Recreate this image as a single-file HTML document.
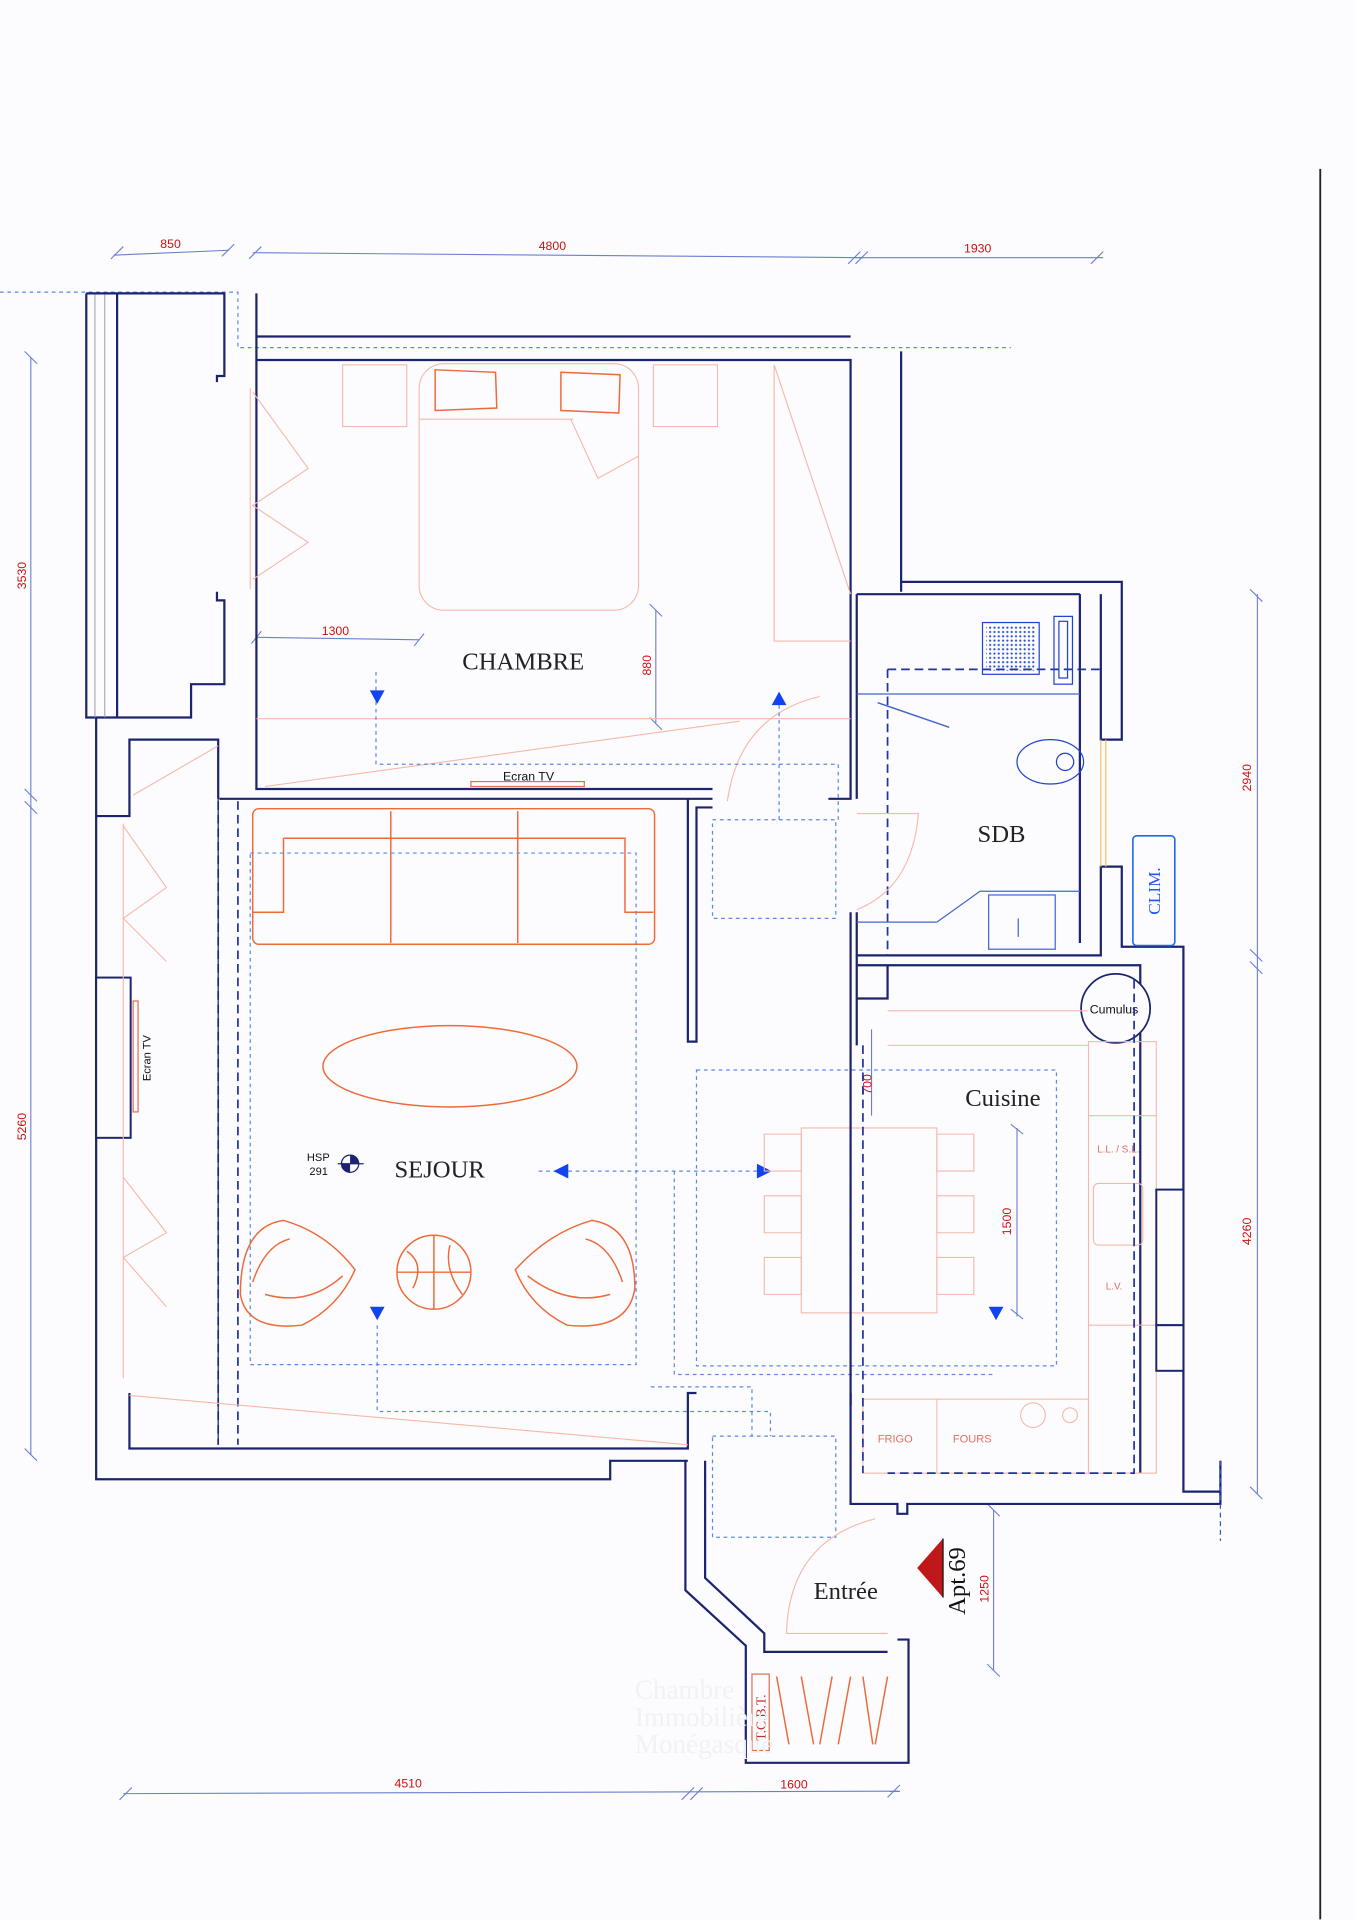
<!DOCTYPE html>
<html><head><meta charset="utf-8"><style>
html,body{margin:0;padding:0;background:#fcfcfe;}
svg{display:block}
text{font-family:"Liberation Sans",sans-serif}
.w{stroke:#1c2470;stroke-width:1.8;fill:none}
.wf{stroke:#1c2470;stroke-width:1.6;fill:#fcfcfe}
.d{stroke:#223399;stroke-width:1.4;fill:none;stroke-dasharray:7 4}
.b{stroke:#5a8ae8;stroke-width:1;fill:none;stroke-dasharray:3 3}
.o{stroke:#ee6a3a;stroke-width:1.2;fill:none}
.p{stroke:#f6b8a8;stroke-width:0.9;fill:none}
.dim{stroke:#6b7fd0;stroke-width:0.9;fill:none}
.dt{fill:#cc1111;font-size:10px}
.rm{font-family:"Liberation Serif",serif !important;font-size:19px;fill:#222}
.sf{font-family:"Liberation Serif",serif !important}
.ar{fill:#1144ee}
</style></head><body>
<svg width="1356" height="1920" viewBox="0 0 1100 1557.5" preserveAspectRatio="none">
<rect width="1100" height="1557.5" fill="#fcfcfe"/>
<line x1="1071" y1="137" x2="1071" y2="1557" stroke="#222" stroke-width="1.5"/>
<g class="dim"><line x1="92" y1="207" x2="186" y2="203"/><line x1="205" y1="205" x2="700" y2="209"/><line x1="693" y1="209" x2="895" y2="209"/>
<line x1="90" y1="210" x2="100" y2="200"/><line x1="180" y1="208" x2="190" y2="198"/><line x1="202" y1="210" x2="212" y2="200"/><line x1="688" y1="214" x2="698" y2="204"/><line x1="694" y1="214" x2="704" y2="204"/><line x1="885" y1="214" x2="895" y2="204"/>
<line x1="25" y1="290" x2="25" y2="1180"/><line x1="20" y1="285" x2="30" y2="295"/><line x1="20" y1="640" x2="30" y2="650"/><line x1="20" y1="650" x2="30" y2="660"/><line x1="20" y1="1175" x2="30" y2="1185"/>
<line x1="1020" y1="482" x2="1020" y2="1212"/><line x1="1014" y1="478" x2="1024" y2="488"/><line x1="1014" y1="770" x2="1024" y2="780"/><line x1="1014" y1="780" x2="1024" y2="790"/><line x1="1014" y1="1206" x2="1024" y2="1216"/>
<line x1="100" y1="1455" x2="730" y2="1453"/><line x1="97" y1="1460" x2="107" y2="1450"/><line x1="553" y1="1460" x2="563" y2="1450"/><line x1="560" y1="1460" x2="570" y2="1450"/><line x1="720" y1="1458" x2="730" y2="1448"/>
<line x1="806" y1="1225" x2="806" y2="1355"/><line x1="801" y1="1220" x2="811" y2="1230"/><line x1="801" y1="1350" x2="811" y2="1360"/>
<line x1="208" y1="517" x2="340" y2="519"/><line x1="204" y1="522" x2="212" y2="512"/><line x1="336" y1="524" x2="344" y2="514"/>
<line x1="532" y1="495" x2="532" y2="587"/><line x1="527" y1="490" x2="537" y2="500"/><line x1="527" y1="582" x2="537" y2="592"/>
<line x1="707" y1="835" x2="707" y2="905"/><line x1="825" y1="915" x2="825" y2="1068"/><line x1="820" y1="1062" x2="830" y2="1070"/><line x1="820" y1="912" x2="830" y2="920"/>
</g>
<g class="dt"><text x="130" y="201">850</text><text x="437" y="203">4800</text><text x="782" y="205">1930</text>
<text x="261" y="515">1300</text><text x="320" y="1450">4510</text><text x="633" y="1451">1600</text>
<text transform="translate(21,478) rotate(-90)">3530</text><text transform="translate(21,925) rotate(-90)">5260</text>
<text transform="translate(1015,642) rotate(-90)">2940</text><text transform="translate(1015,1010) rotate(-90)">4260</text>
<text transform="translate(528,548) rotate(-90)">880</text><text transform="translate(707,888) rotate(-90)">700</text>
<text transform="translate(820,1002) rotate(-90)">1500</text><text transform="translate(802,1300) rotate(-90)">1250</text></g>
<path class="b" d="M0 237 H193 V282 H820" stroke-width="1.2"/>
<path class="w" d="M70 238 V582 H155 V555 H182 V487 H176 V480"/><line class="w" x1="95" y1="238" x2="95" y2="582"/><line x1="77" y1="238" x2="77" y2="582" stroke="#99a" stroke-width="0.8"/><line x1="85" y1="238" x2="85" y2="582" stroke="#99a" stroke-width="0.8"/>
<path class="w" d="M70 238 H182 V305 H176 V310"/>
<path class="w" d="M208 238 V640 H578"/>
<path class="w" d="M208 273 H690"/><path class="w" d="M208 292 H690 V648 H672"/><line class="w" x1="731" y1="285" x2="731" y2="480"/>
<rect class="p" x="278" y="296" width="52" height="50"/><rect class="p" x="530" y="296" width="52" height="50"/>
<rect class="p" x="340" y="295" width="178" height="200" rx="20"/>
<path d="M353 300 L402 302 L403 331 L353 333Z" class="o" stroke-width="1"/><path d="M455 302 L503 304 L502 335 L455 333Z" class="o" stroke-width="1"/>
<line class="p" x1="340" y1="340" x2="465" y2="340"/><path class="p" d="M463 340 L485 388 L518 370"/>
<path class="p" d="M205 318 L250 380 L205 410 L250 440 L205 470"/><line class="p" x1="203" y1="315" x2="203" y2="478"/>
<path class="p" d="M628 296 L690 482 M628 296 V520 H690"/>
<line class="p" x1="208" y1="583" x2="690" y2="583"/><line class="p" x1="215" y1="638" x2="600" y2="585"/>
<path class="p" d="M590 650 Q600 580 665 565"/>
<rect x="382" y="634" width="92" height="4" fill="none" stroke="#e07050"/>
<text x="408" y="633" font-size="10" fill="#111">Ecran TV</text>
<text x="375" y="543" class="rm" style="font-size:20px">CHAMBRE</text>
<path class="b" d="M305 545 V620 H680 V665"/><polygon class="ar" points="300,560 312,560 306,571"/>
<path class="b" d="M632 572 V665"/><polygon class="ar" points="626,572 638,572 632,561"/>
<rect class="b" x="578" y="665" width="100" height="80"/><rect class="b" x="578" y="1165" width="100" height="82"/>
<path class="w" d="M695 482 V648 M695 482 H876 M731 472 H910 V600 H893 V482"/>
<path class="w" d="M695 740 V775 H893 V703 H910 V768 H960 V1210 H990 M695 783 H925 V1195 M720 783 V810 H695"/>
<line class="w" x1="876" y1="482" x2="876" y2="765" stroke-width="1" stroke="#4466cc"/>
<path class="d" d="M720 543 H893 M720 543 V775"/>
<line x1="695" y1="563" x2="876" y2="563" stroke="#4466cc" stroke-width="1"/><line x1="712" y1="570" x2="770" y2="590" stroke="#4466cc" stroke-width="1.2"/>
<defs><pattern id="dots" width="3.5" height="3.5" patternUnits="userSpaceOnUse"><circle cx="1.7" cy="1.7" r="0.9" fill="#3355cc"/></pattern></defs>
<rect x="797" y="505" width="46" height="42" fill="none" stroke="#2244cc"/><rect x="800" y="508" width="40" height="36" fill="url(#dots)"/>
<rect x="855" y="500" width="15" height="55" fill="none" stroke="#2244cc"/><rect x="859" y="504" width="7" height="46" fill="none" stroke="#2244cc"/>
<ellipse cx="852" cy="618" rx="27" ry="18" fill="none" stroke="#2244cc"/><circle cx="864" cy="618" r="7" fill="none" stroke="#2244cc"/>
<path d="M760 748 L795 723 H876" fill="none" stroke="#4466cc"/><line x1="695" y1="748" x2="760" y2="748" stroke="#4466cc"/>
<rect x="802" y="726" width="54" height="44" fill="none" stroke="#4466cc"/><path d="M826 760 V745" stroke="#4466cc" fill="none"/>
<path class="p" d="M695 660 H745 Q740 720 695 738"/>
<line x1="893" y1="600" x2="893" y2="703" stroke="#f4c070"/><line x1="897" y1="600" x2="897" y2="703" stroke="#f4c070"/>
<text x="793" y="683" class="rm" style="font-size:20px">SDB</text>
<rect x="919" y="678" width="34" height="89" rx="3" fill="none" stroke="#2266ee" stroke-width="1.3"/>
<text transform="translate(941,742) rotate(-90)" class="sf" style="font-size:14px" fill="#2255ee">CLIM.</text>
<circle cx="905" cy="818" r="28" fill="#fcfcfe" stroke="#1c2470" stroke-width="1.4"/><text x="884" y="822" font-size="10" fill="#111">Cumulus</text>
<path class="w" d="M78 582 V662 H105 V600 H177 V648 M78 662 V1200 H495 V1185 H558 M105 1130 V1175 H558 V1130 H565"/>
<rect class="wf" x="78" y="793" width="28" height="130"/><rect x="108" y="812" width="4" height="90" fill="none" stroke="#e07050"/>
<text transform="translate(122,877) rotate(-90)" font-size="9" fill="#111">Ecran TV</text>
<line class="w" x1="178" y1="648" x2="578" y2="648"/><path class="w" d="M558 648 V845 H565 V655 H578"/>
<path class="d" d="M177 650 V1172 M193 650 V1172"/><line x1="177" y1="648" x2="177" y2="1172" stroke="#1c2470" stroke-width="1"/>
<path class="p" d="M100 670 L135 720 L100 745 L135 780 M100 955 L135 1000 L100 1020 L135 1060"/><line class="p" x1="100" y1="668" x2="100" y2="1118"/>
<line class="p" x1="105" y1="1132" x2="558" y2="1172"/><path class="p" d="M108 645 L177 605"/>
<g class="o"><rect x="205" y="656" width="326" height="110" rx="5"/><path d="M230 680 H507 V740 H530 M230 680 V740 H205"/><line x1="317" y1="658" x2="317" y2="765"/><line x1="420" y1="658" x2="420" y2="765"/></g>
<rect class="b" x="203" y="692" width="313" height="415"/>
<ellipse cx="365" cy="865" rx="103" ry="33" class="o"/>
<circle cx="352" cy="1032" r="30" class="o"/><path class="o" d="M322 1032 H382 M352 1002 V1062 M330 1015 Q345 1025 335 1045 M365 1010 Q360 1030 375 1050"/>
<path class="o" stroke-width="1.6" d="M195 1050 Q195 995 230 990 Q265 1000 288 1030 Q275 1060 245 1075 Q200 1080 195 1050Z M205 1040 Q215 1010 235 1005 M215 1050 Q250 1060 278 1035"/>
<path class="o" stroke-width="1.6" d="M515 1045 Q515 995 480 990 Q445 1000 418 1030 Q430 1060 460 1075 Q510 1080 515 1045Z M505 1040 Q495 1010 475 1005 M495 1050 Q460 1060 428 1035"/>
<polygon class="ar" points="300,1060 312,1060 306,1071"/><path class="b" d="M306 1075 V1145 H625 V1165"/>
<text x="320" y="955" class="rm" style="font-size:20px">SEJOUR</text>
<text x="249" y="942" font-size="9" fill="#111">HSP</text><text x="251" y="953" font-size="9" fill="#111">291</text>
<circle cx="284" cy="944" r="7" fill="none" stroke="#1c2470"/><path d="M284 937 A7 7 0 0 1 291 944 H284Z M284 951 A7 7 0 0 1 277 944 H284Z" fill="#1c2470"/><line x1="274" y1="944" x2="295" y2="944" stroke="#1c2470"/>
<path class="b" d="M437 950 H620"/><polygon class="ar" points="449,950 461,944 461,956"/><polygon class="ar" points="626,950 614,944 614,956"/>
<rect class="b" x="565" y="868" width="292" height="240"/><path class="b" d="M547 950 V1115 H808 M528 1125 H610 V1165"/>
<g class="p"><rect x="650" y="915" width="110" height="150"/><path d="M620 920 h30 v30 h-30z M620 970 h30 v30 h-30z M620 1020 h30 v30 h-30z M760 920 h30 v30 h-30z M760 970 h30 v30 h-30z M760 1020 h30 v30 h-30z"/></g>
<polygon class="ar" points="802,1060 814,1060 808,1071"/>
<text x="783" y="897" class="rm" style="font-size:20px">Cuisine</text>
<g class="p"><rect x="883" y="845" width="55" height="350"/><line x1="883" y1="905" x2="938" y2="905"/><rect x="887" y="960" width="40" height="50" rx="4"/><line x1="883" y1="1075" x2="938" y2="1075"/>
<rect x="700" y="1135" width="183" height="60"/><line x1="760" y1="1135" x2="760" y2="1195"/><circle cx="838" cy="1148" r="10"/><circle cx="868" cy="1148" r="6"/><line x1="720" y1="848" x2="883" y2="848"/><line x1="720" y1="820" x2="883" y2="820"/></g>
<text x="890" y="935" font-size="8" fill="#e07060">L.L. / S.L.</text><text x="897" y="1046" font-size="8" fill="#e07060">L.V.</text>
<text x="712" y="1170" font-size="9" fill="#e07060">FRIGO</text><text x="773" y="1170" font-size="9" fill="#e07060">FOURS</text>
<rect class="wf" x="938" y="965" width="22" height="110"/><rect class="wf" x="938" y="1075" width="22" height="37"/>
<path class="d" d="M920 795 V1195 H720 V1195"/><line class="d" x1="700" y1="848" x2="700" y2="1195"/>
<path class="w" d="M690 1130 V1220 H728 V1228 H736 V1220 H990 V1185"/><line x1="990" y1="1185" x2="990" y2="1250" stroke="#3355cc" stroke-dasharray="4 3"/>
<path class="w" d="M556 1185 V1290 L605 1335 V1430 H737 V1330 H728"/><path class="w" d="M572 1185 V1280 L620 1325 V1340 H720"/>
<path class="w" d="M690 740 V1140 M695 775 V848"/>
<path class="p" d="M638 1325 Q640 1250 710 1232"/><line class="p" x1="638" y1="1325" x2="720" y2="1325"/>
<text x="660" y="1297" class="rm" style="font-size:20px">Entrée</text>
<polygon points="744,1272 765,1248 765,1296" fill="#c01818"/><line x1="765" y1="1248" x2="765" y2="1296" stroke="#111"/>
<text transform="translate(783,1310) rotate(-90)" class="sf" style="font-size:20px" fill="#111">Apt.69</text>
<rect x="610" y="1358" width="14" height="62" fill="none" stroke="#e07050"/>
<text transform="translate(621,1412) rotate(-90)" class="sf" style="font-size:11px" fill="#c03030">T.C.B.T.</text>
<path class="o" d="M630 1360 L640 1415 M650 1360 L660 1415 M675 1360 L665 1415 M690 1360 L680 1415 M700 1360 L708 1415 M720 1360 L710 1415" stroke-width="0.9"/>
<text x="515" y="1378" class="sf" style="font-size:22px" fill="#f1f1f6">Chambre</text>
<text x="515" y="1400" class="sf" style="font-size:22px" fill="#f1f1f6">Immobilière</text>
<text x="515" y="1422" class="sf" style="font-size:22px" fill="#f1f1f6">Monégasque</text>
</svg>
</body></html>
